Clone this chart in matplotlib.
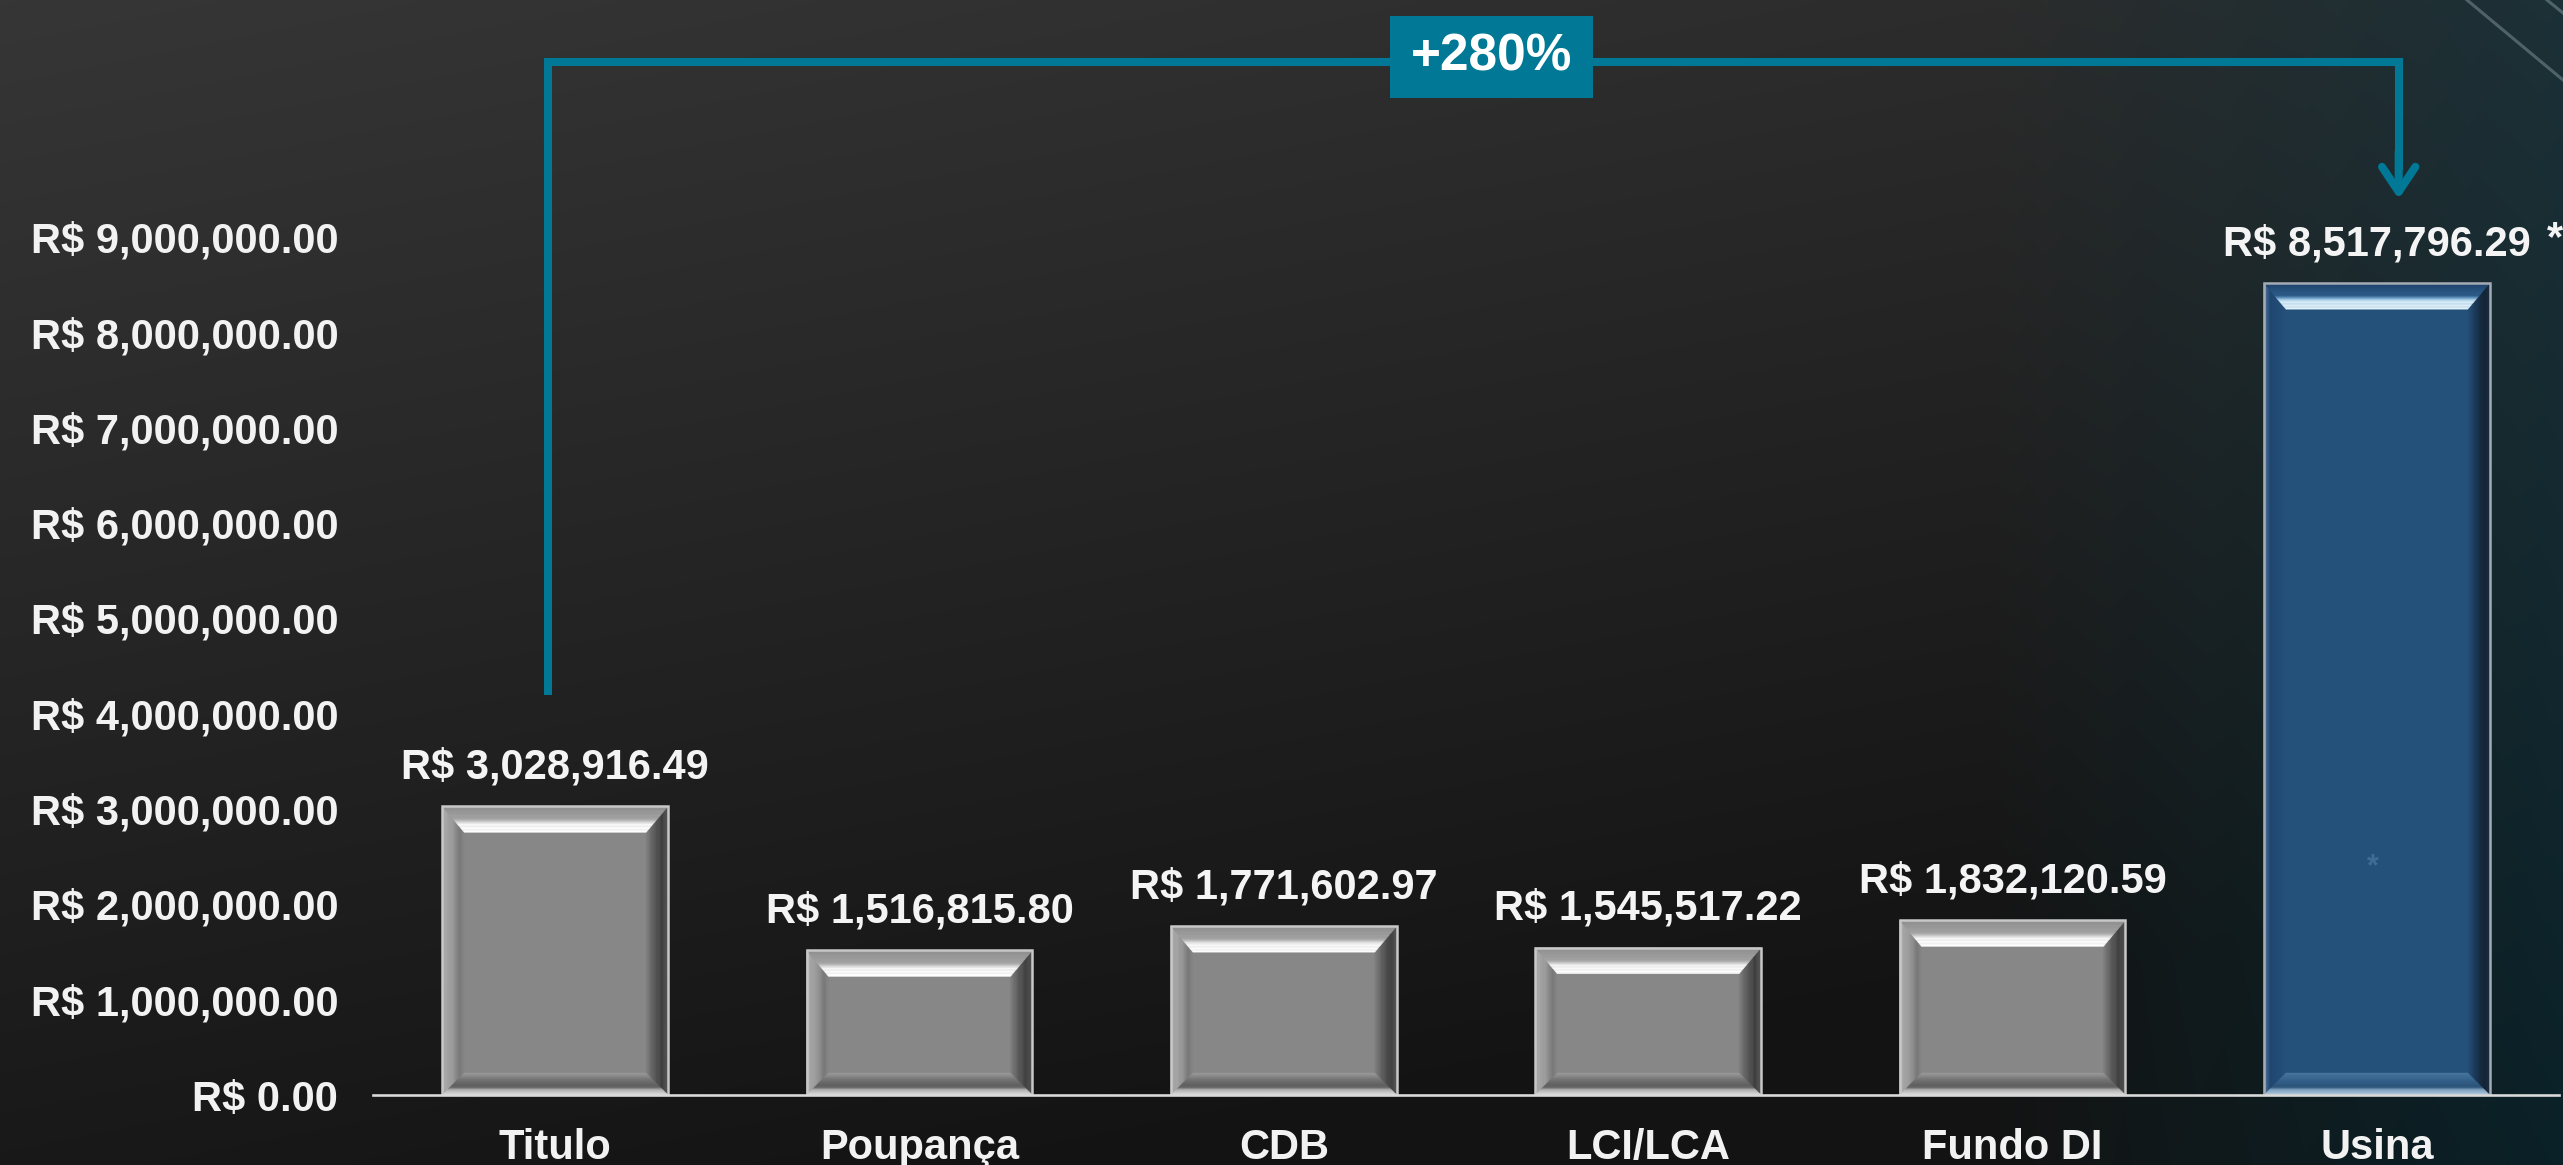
import numpy as np
import matplotlib
matplotlib.use("Agg")
import matplotlib.pyplot as plt
from matplotlib.patches import Polygon, Rectangle
from matplotlib.colors import to_rgb

# ---------------- data ----------------
categories = ['Titulo', 'Poupança', 'CDB', 'LCI/LCA', 'Fundo DI', 'Usina']
values = [3028916.49, 1516815.80, 1771602.97, 1545517.22, 1832120.59, 8517796.29]
yticks = [0, 1e6, 2e6, 3e6, 4e6, 5e6, 6e6, 7e6, 8e6, 9e6]
highlight = 'Usina'
gain_label = '+280%'

plt.rcParams['font.family'] = ['Liberation Sans', 'DejaVu Sans']
plt.rcParams['font.weight'] = 'bold'

W, H, DPI = 2563, 1165, 100
fig = plt.figure(figsize=(W / DPI, H / DPI), dpi=DPI)

# ---------------- background ----------------
bg = fig.add_axes([0, 0, 1, 1], zorder=0)
ny, nx = 240, 520
yy, xx = np.mgrid[0:1:ny * 1j, 0:1:nx * 1j]
g = np.clip(0.212 - 0.115 * yy - 0.05 * xx, 0.075, None)
base = np.dstack([g, g, g])
teal_bg = np.dstack([0.11 - 0.07 * yy, 0.19 - 0.06 * yy, 0.215 - 0.06 * yy])
w = (np.clip((xx - 0.78) / 0.22, 0, 1) ** 0.9)[..., None]
img = base * (1 - w) + teal_bg * w
bg.imshow(img, extent=[0, W, H, 0], aspect='auto', interpolation='bilinear')
bg.plot([2467, 2563], [0, 80], color=(0.36, 0.44, 0.47), lw=2.2, alpha=0.8)
bg.plot([2547, 2563], [0, 13], color=(0.36, 0.44, 0.47), lw=2.2, alpha=0.8)
bg.set_xlim(0, W)
bg.set_ylim(H, 0)
bg.axis('off')

# ---------------- main axes ----------------
ax_left, ax_right, ax_bottom, ax_h = 373, 2559, 70, 1077
ax = fig.add_axes([ax_left / W, ax_bottom / H, (ax_right - ax_left) / W, ax_h / H], zorder=1)
ax.patch.set_alpha(0)
ymax = 11.3e6
ax.set_xlim(-0.5, len(categories) - 0.5)
ax.set_ylim(0, ymax)
ppx = (ax_right - ax_left) / len(categories)   # pixels per x unit
ppy = ax_h / ymax                              # pixels per y unit

x = np.arange(len(categories))
is_hi = [c == highlight for c in categories]
face = ['#245179' if h else '#878787' for h in is_hi]
edge = ['#a3acb5' if h else '#c8c8c8' for h in is_hi]
bars = ax.bar(x, values, width=0.62, color=face, linewidth=0, zorder=2)
ax.bar(x, values, width=0.62, fill=False, edgecolor=edge, linewidth=1.8, zorder=4)

gray_pal = dict(
    top=[(0, '#8e8e8e'), (0.5, '#a4a4a4'), (0.6, '#cfcfcf'), (0.68, '#f6f6f6'), (1, '#ffffff')],
    left=[(0, '#b0b0b0'), (0.5, '#9a9a9a'), (0.8, '#787878'), (1, '#868686')],
    right=[(0, '#555555'), (0.3, '#3e3e3e'), (0.7, '#5e5e5e'), (1, '#808080')],
    bottom=[(0, '#e6e6e6'), (0.22, '#bdbdbd'), (0.38, '#5c5c5c'), (0.65, '#6c6c6c'), (1, '#9a9a9a')],
)
blue_pal = dict(
    top=[(0, '#1d416a'), (0.5, '#2e5e8c'), (0.6, '#7fb0d5'), (0.68, '#cfe8f7'), (1, '#e0f2fb')],
    left=[(0, '#6385a8'), (0.3, '#1f4670'), (1, '#24507a')],
    right=[(0, '#1a2a3a'), (0.3, '#132333'), (0.7, '#1c3a5a'), (1, '#244f78')],
    bottom=[(0, '#c4d7e6'), (0.22, '#8fb0cc'), (0.38, '#2c5378'), (0.65, '#33608a'), (1, '#4a77a0')],
)


def interp(stops, t):
    ts = [s[0] for s in stops]
    cs = np.array([to_rgb(s[1]) for s in stops])
    return tuple(np.interp(t, ts, cs[:, k]) for k in range(3))


def bevel(rect, pal, n=18):
    x0 = rect.get_x()
    x1 = x0 + rect.get_width()
    y0 = rect.get_y()
    y1 = y0 + rect.get_height()
    bl, br = 22 / ppx, 22 / ppx
    bt, bb = 26 / ppy, 22 / ppy
    for k in range(n):
        t0, t1 = k / n, (k + 1) / n
        tm = (t0 + t1) / 2
        polys = {
            'top': [(x0 + t0 * bl, y1 - t0 * bt), (x1 - t0 * br, y1 - t0 * bt),
                    (x1 - t1 * br, y1 - t1 * bt), (x0 + t1 * bl, y1 - t1 * bt)],
            'bottom': [(x0 + t0 * bl, y0 + t0 * bb), (x1 - t0 * br, y0 + t0 * bb),
                       (x1 - t1 * br, y0 + t1 * bb), (x0 + t1 * bl, y0 + t1 * bb)],
            'left': [(x0 + t0 * bl, y0 + t0 * bb), (x0 + t1 * bl, y0 + t1 * bb),
                     (x0 + t1 * bl, y1 - t1 * bt), (x0 + t0 * bl, y1 - t0 * bt)],
            'right': [(x1 - t0 * br, y0 + t0 * bb), (x1 - t1 * br, y0 + t1 * bb),
                      (x1 - t1 * br, y1 - t1 * bt), (x1 - t0 * br, y1 - t0 * bt)],
        }
        for side in ('left', 'right', 'bottom', 'top'):
            ax.add_patch(Polygon(polys[side], closed=True, facecolor=interp(pal[side], tm),
                                 edgecolor=interp(pal[side], tm), linewidth=0.3,
                                 zorder=3, antialiased=True))


for rect, h in zip(bars, is_hi):
    bevel(rect, blue_pal if h else gray_pal)

# ---------------- axes styling ----------------
for s in ('left', 'right', 'top'):
    ax.spines[s].set_visible(False)
ax.spines['bottom'].set_color('#d9d9d9')
ax.spines['bottom'].set_linewidth(1.9)
ax.spines['bottom'].set_zorder(5)

ax.set_yticks(yticks)
ax.set_yticklabels([f"R$ {v:,.2f}" for v in yticks])
ax.set_xticks(x)
ax.set_xticklabels(categories)
ax.tick_params(axis='y', length=0, pad=25, labelsize=30, labelcolor='#f2f2f2')
ax.tick_params(axis='x', length=0, pad=24, labelsize=30, labelcolor='#f2f2f2')

# ---------------- value labels ----------------
for xi, v in zip(x, values):
    ax.annotate(f"R$ {v:,.2f}", xy=(xi, v), xytext=(0, 20), textcoords='offset points',
                ha='center', va='baseline', fontsize=30, color='#f4f4f4', zorder=6)

hi = categories.index(highlight)
ax.annotate('*', xy=(x[hi], values[hi]), xytext=(128, 24), textcoords='offset points',
            ha='center', va='baseline', fontsize=30, color='#f4f4f4', zorder=6,
            annotation_clip=False)
ax.text(x[hi] - 0.01, values[hi] * 0.28, '*', ha='center', va='center', fontsize=22,
        color='#3f6b95', zorder=6)

# ---------------- +280% bracket ----------------
teal = '#007896'
xl = x[0] - 0.02
xr = x[hi] + 0.06
y_start, y_top, y_tip = 4.2e6, 10.84e6, 9.4e6
ax.plot([xl, xl, xr, xr], [y_start, y_top, y_top, y_tip + 0.3e6], color=teal, lw=5.8,
        solid_joinstyle='miter', solid_capstyle='butt', clip_on=False, zorder=5)
ax.annotate('', xy=(xr, y_tip), xytext=(xr, y_tip + 0.5e6),
            arrowprops=dict(arrowstyle='->,head_length=0.9,head_width=0.6', color=teal,
                            lw=5.8, shrinkA=0, shrinkB=0, mutation_scale=20), zorder=5)

x_mid = 2.57
y_box = 10.89e6
bw, bh = 203 / ppx, 82 / ppy
ax.add_patch(Rectangle((x_mid - bw / 2, y_box - bh / 2), bw, bh, facecolor=teal,
                       edgecolor='none', zorder=6, clip_on=False))
ax.text(x_mid, y_box, gain_label, ha='center', va='center', fontsize=37,
        color='white', zorder=7)

fig.savefig('out.png', dpi=DPI)
